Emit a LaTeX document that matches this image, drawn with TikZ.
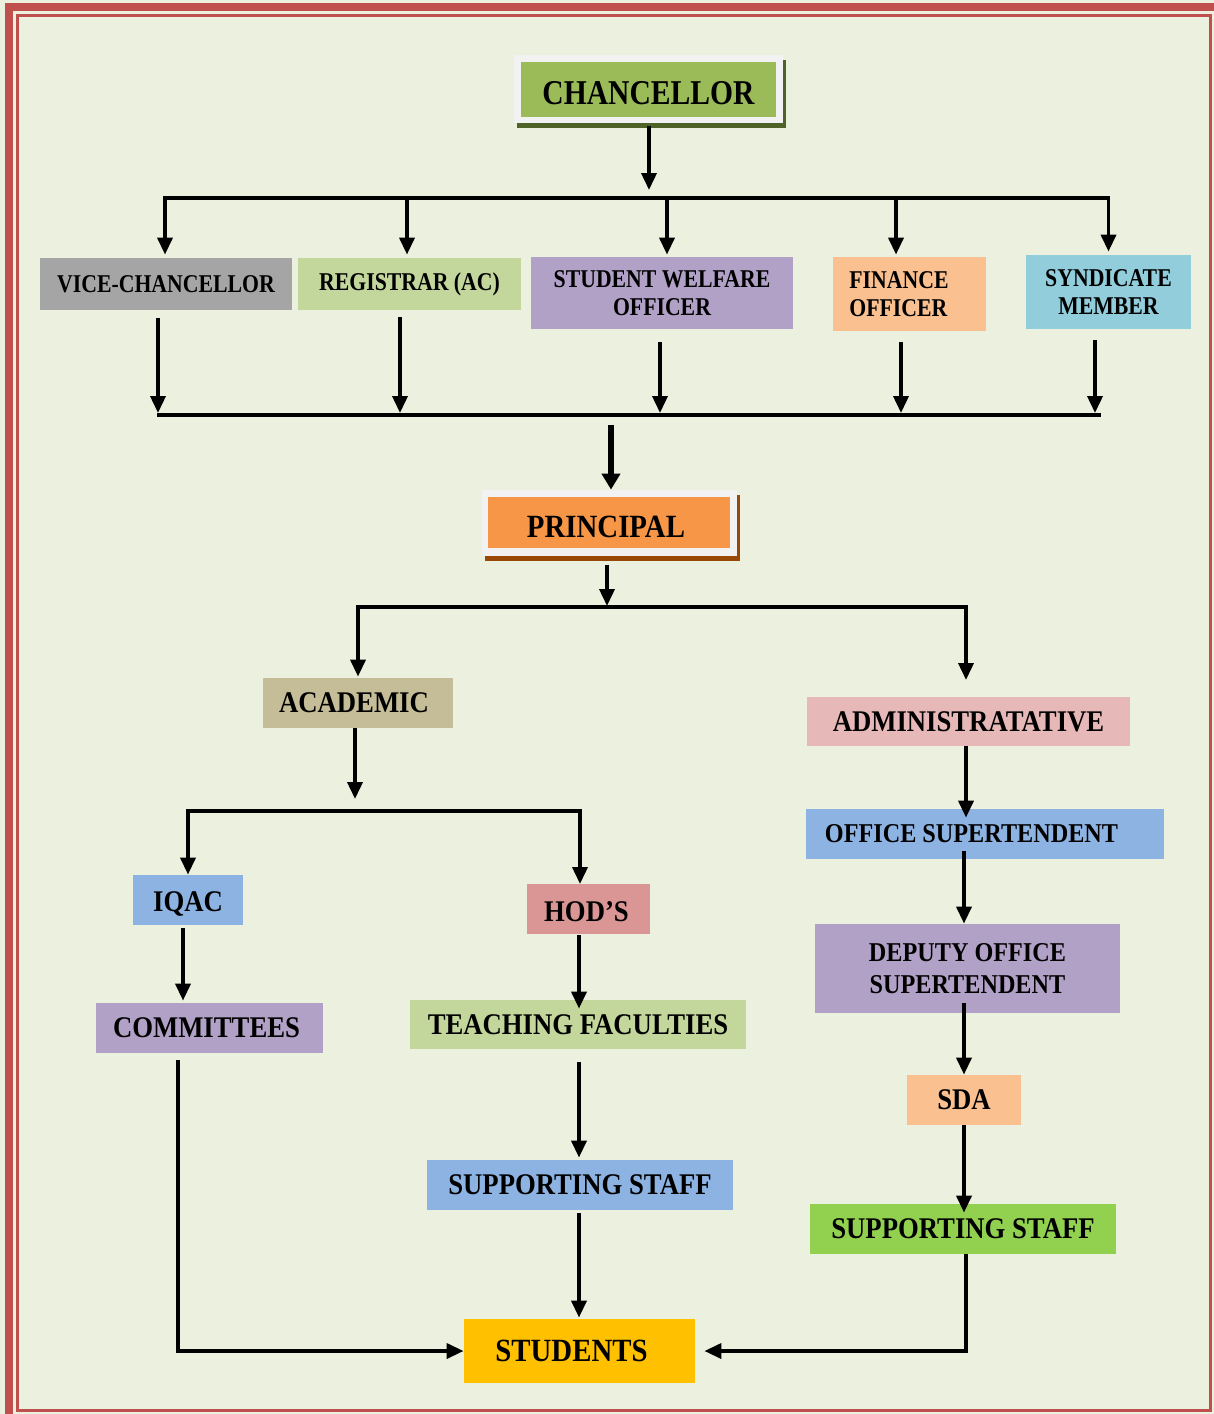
\documentclass[tikz,border=0pt]{standalone}
\usepackage{fontspec}
\newfontfamily\bfont{Liberation Serif}[FakeStretch=0.85]
\newfontfamily\bfontw{Liberation Serif}[FakeStretch=0.89]
\usetikzlibrary{arrows.meta,calc,shadows}
\definecolor{bgc}{HTML}{EBF1DE}
\definecolor{redb}{HTML}{C0504D}
\definecolor{framec}{HTML}{F2F2F2}
\definecolor{chang}{HTML}{9BBB59}
\definecolor{olived}{HTML}{4F6228}
\definecolor{princo}{HTML}{F79646}
\definecolor{brownd}{HTML}{984807}
\definecolor{grayb}{HTML}{A5A5A5}
\definecolor{lgreen}{HTML}{C3D69B}
\definecolor{purpl}{HTML}{B2A1C7}
\definecolor{peach}{HTML}{FAC090}
\definecolor{aqua}{HTML}{92CDDC}
\definecolor{tan}{HTML}{C4BD97}
\definecolor{pinkb}{HTML}{E6B9B8}
\definecolor{blueb}{HTML}{8DB3E2}
\definecolor{rose}{HTML}{D99694}
\definecolor{gold}{HTML}{FFC000}
\definecolor{greenb}{HTML}{92D050}
\begin{document}
\begin{tikzpicture}[x=0.5pt,y=-0.5pt,
  bx/.style n args={3}{inner sep=0pt, minimum width=#1*0.5pt, minimum height=#2*0.5pt, fill=#3, align=center, text=black},
  fH/.style={font=\bfont\bfseries\fontsize{17.4}{20}\selectfont},
  fB/.style={font=\bfontw\bfseries\fontsize{16.2}{19}\selectfont},
  fN/.style={font=\bfontw\bfseries\fontsize{15}{17}\selectfont},
  fM/.style={font=\bfontw\bfseries\fontsize{13.6}{16}\selectfont},
  fS/.style={font=\bfont\bfseries\fontsize{12.8}{14}\selectfont},
  arr/.style={line width=1.8pt, -{Triangle[width=7.5pt,length=8.5pt]}},
  arrT/.style={line width=3pt, -{Triangle[width=9pt,length=8pt]}},
  ln/.style={line width=1.8pt},
  frm/.style={inner sep=0pt, fill=framec, drop shadow={shadow xshift=1.5pt, shadow yshift=-2.5pt, fill=#1, opacity=1}},
]
\useasboundingbox (0,0) rectangle (1214,1414);
\clip (0,0) rectangle (1214,1414);
\fill[bgc] (0,0) rectangle (1214,1414);
\draw[redb, line width=4pt] (9,7) rectangle (1240,1440);
\draw[redb, line width=1.5pt] (17.5,15.5) rectangle (1210.5,1410.5);

% top
\node[frm=olived, minimum width=134.5pt, minimum height=34pt] (chanf) at (648.5,89) {};
\node[bx={255}{55}{chang}, fH, text height=14.5pt, text depth=0pt] (chan) at (648.5,89.5) {CHANCELLOR};

% second level
\node[bx={252}{52}{grayb}, fS] (vc) at (166,284) {VICE-CHANCELLOR};
\node[bx={223}{52}{lgreen}, fS] (reg) at (409.5,284) {REGISTRAR (AC)};
\node[bx={262}{72}{purpl}, fS] (swo) at (662,293) {STUDENT WELFARE\\OFFICER};
\node[bx={153}{74}{peach}] (fo) at (909.5,294) {};
\node[fS, align=left, inner sep=0pt] (fot) at (899,294) {FINANCE\\OFFICER};
\node[bx={165}{74}{aqua}, fS] (sm) at (1108.5,292) {SYNDICATE\\MEMBER};

% principal
\node[frm=brownd, minimum width=127.5pt, minimum height=33pt] (prinf) at (609.5,523) {};
\node[bx={242}{51}{princo}, fB, text height=14.7pt, text depth=0pt] (prin) at (609,522.5) {\hspace*{-3pt}PRINCIPAL};

% third level
\node[bx={190}{50}{tan}, fN] (acad) at (358,703) {\hspace*{-4pt}ACADEMIC};
\node[bx={323}{49}{pinkb}, fN] (admin) at (968.5,721.5) {ADMINISTRATATIVE};
\node[bx={110}{50}{blueb}, fN, text height=11pt, text depth=0pt] (iqac) at (188,900) {IQAC};
\node[bx={123}{50}{rose}, fN, text height=12.9pt, text depth=0pt] (hod) at (588.5,909) {\hspace*{-2pt}HOD’S};
\node[bx={227}{50}{purpl}, fN] (comm) at (209.5,1028) {\hspace*{-3pt}COMMITTEES};
\node[bx={336}{49}{lgreen}, fN] (tf) at (578,1024.5) {TEACHING FACULTIES};
\node[bx={306}{50}{blueb}, fN] (ssl) at (580,1185) {SUPPORTING STAFF};
\node[bx={231}{64}{gold}, fB] (stu) at (579.5,1351) {\hspace*{-8pt}STUDENTS};
\node[bx={358}{50}{blueb}] (os) at (985,834) {};
\node[fM, inner sep=0pt] (ost) at (971.5,834) {OFFICE SUPERTENDENT};
\node[bx={305}{89}{purpl}, fM] (dos) at (967.5,968.5) {DEPUTY OFFICE\\SUPERTENDENT};
\node[bx={114}{50}{peach}, fN] (sda) at (964,1100) {SDA};
\node[bx={306}{50}{greenb}, fN] (ssr) at (963,1229) {SUPPORTING STAFF};

% coordinates
\coordinate (tbM) at (649,198);
\coordinate (t2) at (407,198);
\coordinate (t3) at (667,198);
\coordinate (t4) at (896,198);
\coordinate (lbL) at (157,415);
\coordinate (lbR) at (1101,415);
\coordinate (l1) at (158,413);
\coordinate (l2) at (400,413);
\coordinate (l3) at (660,413);
\coordinate (l4) at (901,413);
\coordinate (l5) at (1095,413);
\coordinate (pa) at (611,425);
\coordinate (pm) at (607,607);
\coordinate (ad) at (966,680);
\coordinate (ab) at (355,799);
\coordinate (b2) at (384,811);
\coordinate (hd) at (580,884);

% chancellor to top bar
\draw[arr] ($(tbM |- chanf.south)+(0,3)$) -- ($(tbM)+(0,-8)$);
\draw[arr] (tbM) -| ($(vc.north)+(-1,-3)$);
\draw[arr] (tbM) -| ($(sm.north)+(0,-3)$);
\draw[arr] (t2) -- ($(t2 |- reg.north)+(0,-3)$);
\draw[arr] (t3) -- ($(t3 |- swo.north)+(0,-2)$);
\draw[arr] (t4) -- ($(t4 |- fo.north)+(0,-2)$);

% second level to lower bar
\draw[arr] ($(l1 |- vc.south)+(0,8)$) -- (l1);
\draw[arr] ($(l2 |- reg.south)+(0,7)$) -- (l2);
\draw[arr] ($(l3 |- swo.south)+(0,13)$) -- (l3);
\draw[arr] ($(l4 |- fo.south)+(0,11)$) -- (l4);
\draw[arr] ($(l5 |- sm.south)+(0,11)$) -- (l5);
\draw[ln] (lbL) -- (lbR);

% to principal
\draw[arrT] (pa) -- (pa |- prinf.north);

% principal to branches
\draw[arr] ($(pm |- prinf.south)+(0,9)$) -- ($(pm)+(0,-1)$);
\draw[arr] (pm) -| ($(acad.north)+(0,-1)$);
\draw[arr] (pm) -| (ad);

% academic branch
\draw[arr] (acad.south -| ab) -- (ab);
\draw[arr] (b2) -| ($(iqac.north)+(0,0)$);
\draw[arr] (b2) -| (hd);
\draw[arr] ($(iqac.south)+(-5,3)$) -- ($(comm.north -| iqac.south)+(-5,-2)$);
\draw[arr] ($(tf.north |- hod.south)+(1,1)$) -- ($(tf.north)+(1,9)$);
\draw[arr] ($(tf.south)+(1,13)$) -- ($(ssl.north)+(-1,-2)$);
\draw[arr] ($(ssl.south)+(-1,3)$) -- ($(stu.north)+(-0.5,-1)$);
\draw[arr] ($(comm.south)+(-31.5,7)$) |- (stu.west);

% administrative branch
\draw[arr] ($(admin.south)+(-2.5,0)$) -- ($(os.north -| admin.south)+(-2.5,9)$);
\draw[arr] ($(dos.north |- os.south)+(-3.5,-8)$) -- ($(dos.north)+(-3.5,0)$);
\draw[arr] ($(sda.north |- dos.south)+(0,-10)$) -- (sda.north);
\draw[arr] (sda.south) -- ($(sda.south |- ssr.north)+(0,9)$);
\draw[arr] ($(ssr.south)+(3,0)$) |- ($(stu.east)+(9,0)$);
\end{tikzpicture}
\end{document}
